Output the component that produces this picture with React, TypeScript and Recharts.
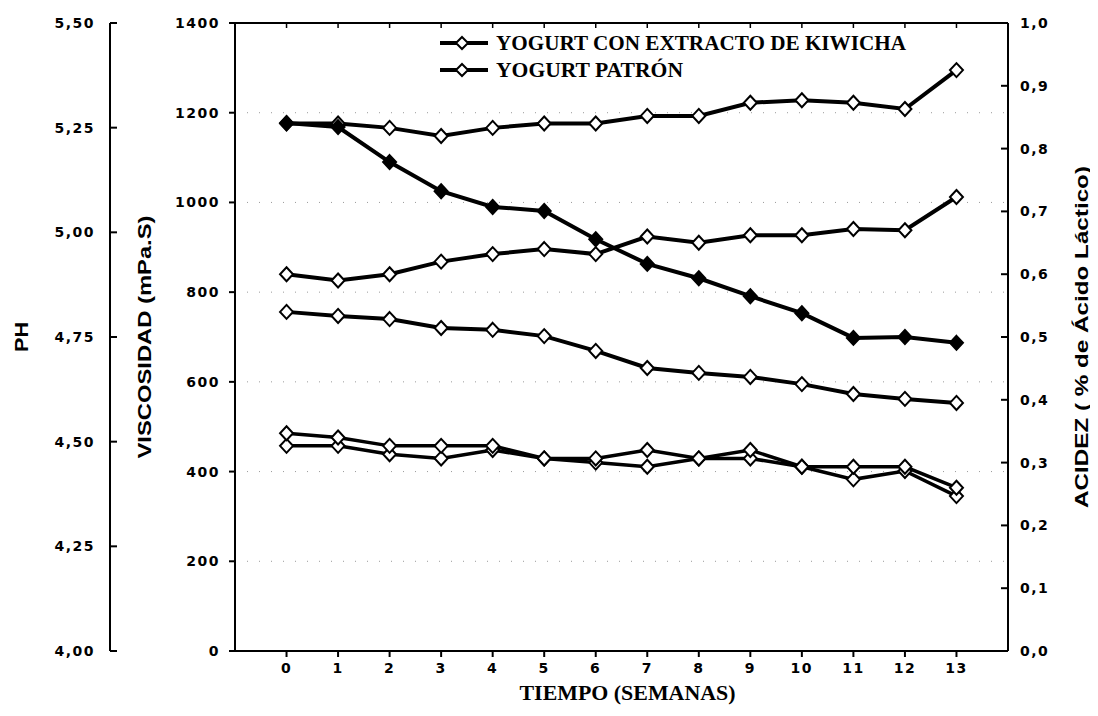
import { LineChart, Line, XAxis, YAxis, CartesianGrid, Legend } from 'recharts'

// semanas de almacenamiento
const weeks = [0, 1, 2, 3, 4, 5, 6, 7, 8, 9, 10, 11, 12, 13]

// viscosidad (mPa.S)
const viscKiwicha = [1177, 1168, 1090, 1025, 990, 981, 918, 863, 831, 791, 753, 698, 700, 687]
const viscPatron = [756, 747, 740, 720, 716, 702, 669, 631, 620, 611, 595, 573, 562, 553]

// acidez (% de acido lactico)
const acidKiwicha = [0.84, 0.84, 0.833, 0.82, 0.833, 0.84, 0.84, 0.852, 0.852, 0.873, 0.877, 0.873, 0.863, 0.925]
const acidPatron = [0.6, 0.59, 0.6, 0.62, 0.632, 0.64, 0.632, 0.66, 0.65, 0.662, 0.662, 0.672, 0.67, 0.723]

// pH
const phKiwicha = [4.52, 4.51, 4.49, 4.49, 4.49, 4.46, 4.46, 4.48, 4.46, 4.48, 4.44, 4.44, 4.44, 4.39]
const phPatron = [4.49, 4.49, 4.47, 4.46, 4.48, 4.46, 4.45, 4.44, 4.46, 4.46, 4.44, 4.41, 4.43, 4.37]

const viscTicks = [0, 200, 400, 600, 800, 1000, 1200, 1400]
const phTicks = [4, 4.25, 4.5, 4.75, 5, 5.25, 5.5]
const acidTicks = [0, 0.1, 0.2, 0.3, 0.4, 0.5, 0.6, 0.7, 0.8, 0.9, 1]

const legendItems = ['YOGURT CON EXTRACTO DE KIWICHA', 'YOGURT PATRÓN']

const data = weeks.map((w, i) => ({
  week: w,
  viscKiwicha: viscKiwicha[i],
  viscPatron: viscPatron[i],
  acidKiwicha: acidKiwicha[i],
  acidPatron: acidPatron[i],
  phKiwicha: phKiwicha[i],
  phPatron: phPatron[i],
}))

const tickFont = { fontFamily: 'DejaVu Sans', fontWeight: 'bold', fontSize: 14, fill: '#000', letterSpacing: 1.5 }
const axisStroke = { stroke: '#000', strokeWidth: 2 }
const comma = (d: number) => (v: number) => v.toFixed(d).replace('.', ',')

const diamond = (filled: boolean) => (p: any) => {
  if (p.cx == null || p.cy == null) return <g key={p.index} />
  const { cx, cy } = p
  return (
    <path
      key={p.index}
      d={`M${cx},${cy - 7} L${cx + 6.5},${cy} L${cx},${cy + 7} L${cx - 6.5},${cy} Z`}
      fill={filled ? '#000' : '#fff'}
      stroke="#000"
      strokeWidth={2}
    />
  )
}

const sideTitle = (text: string, dx: number, len: number, rot: number) => (props: any) => {
  const vb = props.viewBox || { x: 0, y: 15, width: 0, height: 628 }
  const x = vb.x + dx
  const y = vb.y + vb.height / 2
  return (
    <text
      x={x}
      y={y}
      transform={`rotate(${rot} ${x} ${y})`}
      textAnchor="middle"
      dominantBaseline="central"
      fontFamily="Liberation Sans"
      fontWeight="bold"
      fontSize={18}
      textLength={len}
      lengthAdjust="spacingAndGlyphs"
      fill="#000"
    >
      {text}
    </text>
  )
}

const bottomTitle = (props: any) => {
  const vb = props.viewBox || { x: 227, y: 643, width: 773, height: 65 }
  return (
    <text
      x={vb.x + vb.width / 2 + 6}
      y={vb.y + 42}
      textAnchor="middle"
      dominantBaseline="central"
      fontFamily="Liberation Serif"
      fontWeight="bold"
      fontSize={20}
      textLength={216}
      lengthAdjust="spacingAndGlyphs"
      fill="#000"
    >
      TIEMPO (SEMANAS)
    </text>
  )
}

const LegendBox = () => (
  <svg width={480} height={60}>
    {legendItems.map((t, i) => {
      const y = 13 + i * 27
      return (
        <g key={t}>
          <line x1={0} x2={48} y1={y} y2={y} stroke="#000" strokeWidth={4} />
          <path d={`M22,${y - 6} L28,${y} L22,${y + 6} L16,${y} Z`} fill="#fff" stroke="#000" strokeWidth={2} />
          <text
            x={56}
            y={y}
            dominantBaseline="central"
            fontFamily="Liberation Serif"
            fontWeight="bold"
            fontSize={20}
            textLength={i === 0 ? 410 : 187}
            lengthAdjust="spacingAndGlyphs"
            fill="#000"
          >
            {t}
          </text>
        </g>
      )
    })}
  </svg>
)

export default function App() {
  return (
    <LineChart width={1090} height={708} data={data} margin={{ top: 14, right: 0, bottom: 0, left: 0 }}>
      <CartesianGrid yAxisId="a_visc" vertical={false} strokeDasharray="1 11" stroke="#9a9a9a" />
      <XAxis
        dataKey="week"
        type="number"
        domain={[-1, 14]}
        ticks={weeks}
        height={65}
        tick={tickFont}
        tickSize={6}
        tickMargin={6}
        axisLine={axisStroke}
        tickLine={axisStroke}
        label={bottomTitle}
      />
      <XAxis
        xAxisId="top"
        orientation="top"
        dataKey="week"
        type="number"
        domain={[-1, 14]}
        ticks={weeks}
        height={1}
        tickSize={-5}
        tickFormatter={() => ''}
        axisLine={axisStroke}
        tickLine={{ stroke: '#000', strokeWidth: 1.5 }}
      />
      <YAxis
        yAxisId="a_visc"
        orientation="left"
        width={125}
        domain={[0, 1400]}
        ticks={viscTicks}
        interval={0}
        tick={tickFont}
        tickSize={6}
        tickMargin={9}
        axisLine={axisStroke}
        tickLine={axisStroke}
        label={sideTitle('VISCOSIDAD (mPa.S)', 35, 243, -90)}
      />
      <YAxis
        yAxisId="b_ph"
        orientation="left"
        width={102}
        domain={[4, 5.5]}
        ticks={phTicks}
        interval={0}
        tick={tickFont}
        tickSize={-7}
        tickMargin={22}
        tickFormatter={comma(2)}
        axisLine={axisStroke}
        tickLine={axisStroke}
        label={sideTitle('PH', 14, 30, -90)}
      />
      <YAxis
        yAxisId="c_acid"
        orientation="right"
        width={90}
        domain={[0, 1]}
        ticks={acidTicks}
        interval={0}
        tick={tickFont}
        tickSize={-7}
        tickMargin={19}
        tickFormatter={comma(1)}
        axisLine={axisStroke}
        tickLine={axisStroke}
        label={sideTitle('ACIDEZ ( % de Ácido Láctico)', 74, 342, -90)}
      />
      <Legend
        layout="vertical"
        align="center"
        verticalAlign="middle"
        wrapperStyle={{ left: 432, top: 22, width: 480, height: 60 }}
        content={() => <LegendBox />}
      />
      <Line yAxisId="c_acid" dataKey="acidKiwicha" stroke="#000" strokeWidth={4} dot={diamond(false)} isAnimationActive={false} />
      <Line yAxisId="c_acid" dataKey="acidPatron" stroke="#000" strokeWidth={4} dot={diamond(false)} isAnimationActive={false} />
      <Line yAxisId="a_visc" dataKey="viscPatron" stroke="#000" strokeWidth={4} dot={diamond(false)} isAnimationActive={false} />
      <Line yAxisId="b_ph" dataKey="phPatron" stroke="#000" strokeWidth={3.5} dot={diamond(false)} isAnimationActive={false} />
      <Line yAxisId="b_ph" dataKey="phKiwicha" stroke="#000" strokeWidth={3.5} dot={diamond(false)} isAnimationActive={false} />
      <Line yAxisId="a_visc" dataKey="viscKiwicha" stroke="#000" strokeWidth={4} dot={diamond(true)} isAnimationActive={false} />
    </LineChart>
  )
}
